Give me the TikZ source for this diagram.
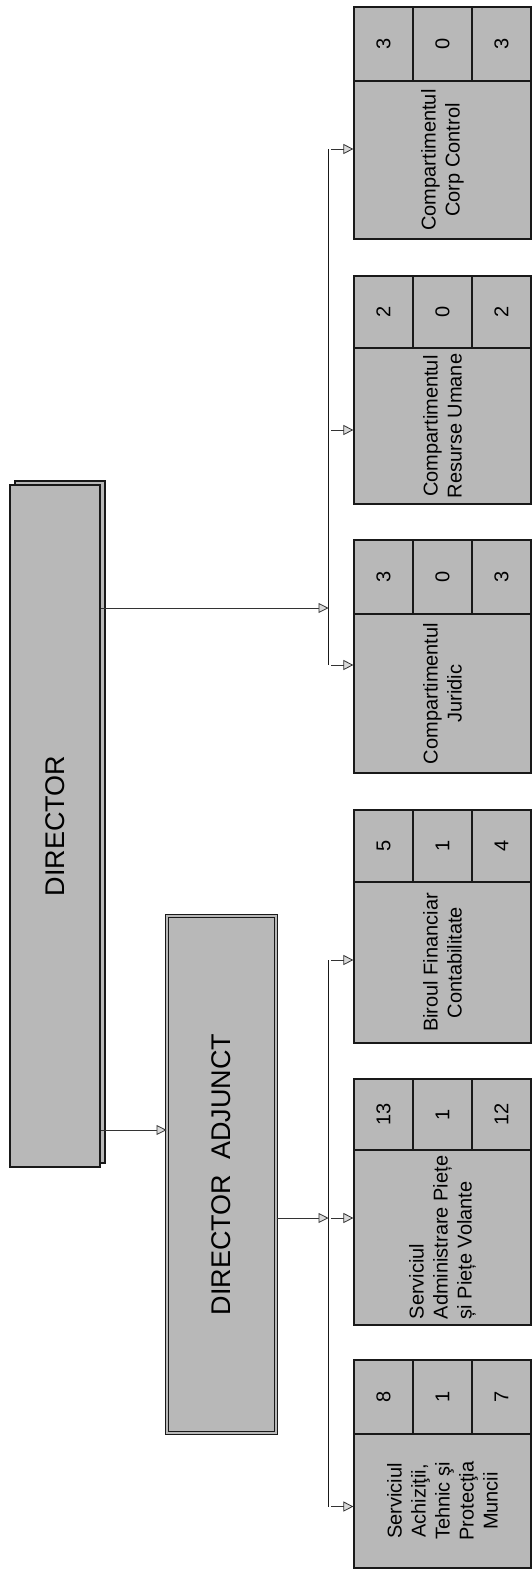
\documentclass[tikz,border=0pt]{standalone}
\usepackage{fontspec}
\setmainfont{Liberation Sans}
\usetikzlibrary{arrows.meta, positioning}

\begin{document}
\begin{tikzpicture}[x=1pt, y=-1pt,
    chief/.style={draw=black!90, line width=1.2pt, fill=black!28, inner sep=0pt,
      rotate=90, font=\fontsize{27}{32}\selectfont, text=black},
    cell/.style={draw=black!90, line width=1.2pt, fill=black!28, inner sep=0pt,
      rotate=90, align=center, font=\fontsize{20}{24}\selectfont, text=black},
    link/.style={draw=black!80, line width=0.9pt,
      -{Triangle[length=10pt, width=10pt, line width=0.8pt, fill=black!15]}},
    bus/.style={draw=black!90, line width=1.2pt}
]
\useasboundingbox (0,0) rectangle (532,1574);

% conducere
\filldraw[draw=black!90, line width=1.2pt, fill=black!28] (15,481) rectangle (105,1163);
\node[chief, minimum width=682pt, minimum height=90pt] (dir) at (55,826) {DIRECTOR};
\node[chief, double=black!28, double distance=2pt, line width=1pt,
  minimum width=517pt, minimum height=109pt] (adj) at (221.5,1174.5) {DIRECTOR\ \ ADJUNCT};

% compartimente
\node[cell, minimum width=158pt, minimum height=177pt] (cc) at (442.5,160) {Compartimentul\\Corp Control};
\node[cell, minimum width=156pt, minimum height=177pt] (ru) at (442.5,426) {Compartimentul\\Resurse Umane};
\node[cell, minimum width=159pt, minimum height=177pt] (jur) at (442.5,693.5) {Compartimentul\\Juridic};
\node[cell, minimum width=161pt, minimum height=177pt] (bfc) at (442.5,962.5) {Biroul Financiar\\Contabilitate};
\node[cell, align=left, minimum width=175pt, minimum height=177pt] (sap) at (442.5,1237.5) {Serviciul\\Administrare Piețe\\și Piețe Volante};
\node[cell, minimum width=134pt, minimum height=177pt] (sat) at (442.5,1501) {Serviciul\\Achiziţii,\\Tehnic şi\\Protecţia\\Muncii};

% numar posturi
\foreach \ps/\ya/\yd/\na/\nb/\nc in {cc/7/81/3/0/3, ru/276/348/2/0/2, jur/540/614/3/0/3,
    bfc/810/882/5/1/4, sap/1079/1150/13/1/12, sat/1360/1434/8/1/7} {
  \node[cell, minimum width={(\yd-\ya)*1pt}, minimum height=59pt] (\ps-a) at (383.5,{(\ya+\yd)/2}) {\na};
  \node[cell, minimum width={(\yd-\ya)*1pt}, minimum height=59pt] (\ps-b) at (442.5,{(\ya+\yd)/2}) {\nb};
  \node[cell, minimum width={(\yd-\ya)*1pt}, minimum height=59pt] (\ps-c) at (501.5,{(\ya+\yd)/2}) {\nc};
}

% legaturi
\coordinate (j-dir) at (328.5,608);
\coordinate (j-adj) at (0,1130);
\foreach \ps/\yy in {cc/149, ru/430, jur/665, bfc/960, sap/1218, sat/1506.5}
  \coordinate (t-\ps) at (328.5,\yy);
\draw[bus] (t-cc) -- (t-jur);
\draw[bus] (t-bfc) -- (t-sat);
\draw[link] (dir.south |- j-adj) -- (adj.north |- j-adj);
\draw[link] (dir.south |- j-dir) -- (j-dir);
\draw[link] (adj.south |- t-sap) -- (t-sap);
\foreach \ps in {cc, ru, jur, bfc, sap, sat}
  \draw[link, shorten <=2.5pt] (t-\ps) -- (t-\ps -| \ps.north);
\end{tikzpicture}
\end{document}
